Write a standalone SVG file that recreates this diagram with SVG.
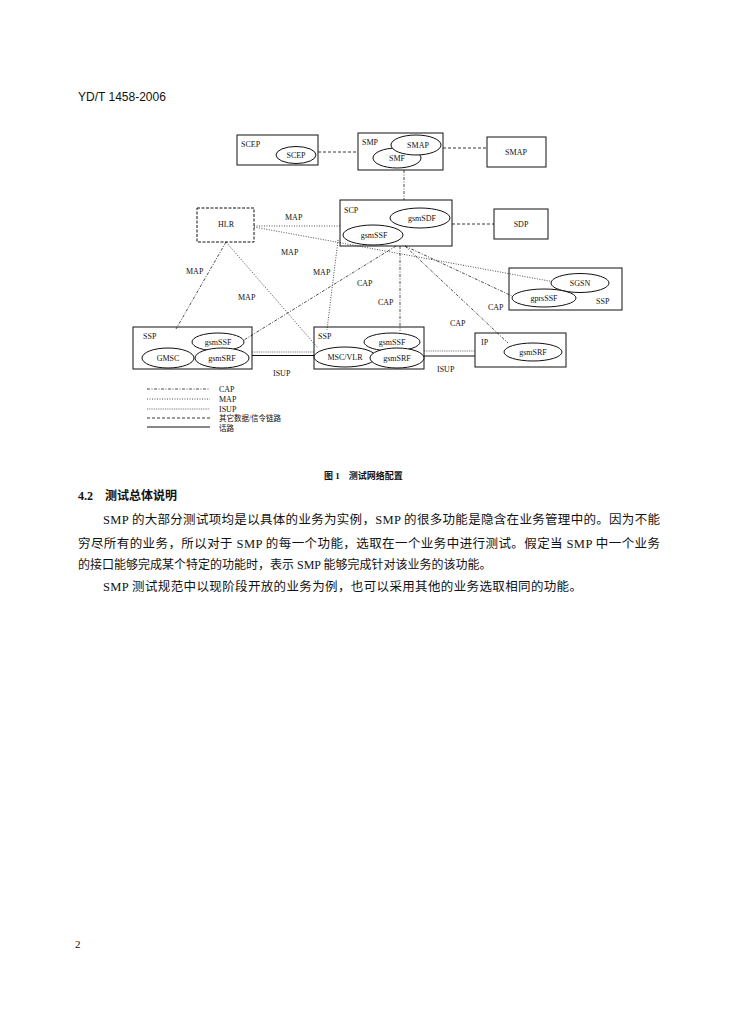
<svg xmlns="http://www.w3.org/2000/svg" width="744" height="1024" viewBox="0 0 744 1024">
<style>
.bx{fill:none;stroke:#111;stroke-width:1}
.el{fill:#fff;stroke:#111;stroke-width:1}
.t{font-family:"Liberation Serif",serif;font-size:8px;fill:#111}
.tc{font-family:"Liberation Serif",serif;font-size:8px;fill:#111;text-anchor:middle}
.cap{fill:none;stroke:#222;stroke-width:0.8;stroke-dasharray:3 1.5 1 1.5}
.map{fill:none;stroke:#222;stroke-width:0.8;stroke-dasharray:1 1.5}
.isup{fill:none;stroke:#444;stroke-width:0.7;stroke-dasharray:1 0.8}
.oth{fill:none;stroke:#222;stroke-width:0.9;stroke-dasharray:3 2}
.sol{fill:none;stroke:#111;stroke-width:1}
.zh{font-family:"Liberation Serif","Noto Sans CJK SC",serif;fill:#111}
</style>
<rect width="744" height="1024" fill="#fff"/>
<text x="78" y="101" font-family="Liberation Sans,Arial,sans-serif" font-size="12" fill="#111">YD/T 1458-2006</text>

<g id="connectors">
<line class="oth" x1="318" y1="152" x2="358" y2="152"/>
<line class="oth" x1="443" y1="148" x2="487" y2="148"/>
<line class="cap" x1="404" y1="170" x2="404" y2="200"/>
<line class="oth" x1="452" y1="224" x2="494" y2="224"/>
<line class="map" x1="254" y1="226" x2="340" y2="226"/>
<line class="map" x1="254" y1="227" x2="560" y2="283"/>
<line class="cap" x1="226" y1="242" x2="176" y2="329"/>
<line class="map" x1="226" y1="242" x2="318" y2="348"/>
<line class="map" x1="338" y1="240" x2="327" y2="330"/>
<line class="cap" x1="396" y1="246" x2="244" y2="340"/>
<line class="cap" x1="400" y1="246" x2="400" y2="331"/>
<line class="cap" x1="405" y1="246" x2="512" y2="296"/>
<line class="cap" x1="405" y1="246" x2="508" y2="343"/>
<line class="isup" x1="252" y1="352" x2="314" y2="352"/>
<line class="sol" x1="252" y1="355.5" x2="314" y2="355.5"/>
<line class="isup" x1="424" y1="351" x2="475" y2="351"/>
<line class="sol" x1="424" y1="356" x2="475" y2="356"/>
<text class="t" x="285" y="220">MAP</text>
<text class="t" x="281" y="255">MAP</text>
<text class="t" x="186" y="274">MAP</text>
<text class="t" x="238" y="300">MAP</text>
<text class="t" x="313" y="275">MAP</text>
<text class="t" x="357" y="286">CAP</text>
<text class="t" x="378" y="305">CAP</text>
<text class="t" x="488" y="310">CAP</text>
<text class="t" x="450" y="326">CAP</text>
<text class="t" x="273" y="376">ISUP</text>
<text class="t" x="437" y="372">ISUP</text>
</g>

<g id="scep">
<rect class="bx" x="237" y="135" width="81" height="30"/>
<text class="t" x="241" y="147">SCEP</text>
<ellipse class="el" cx="296" cy="155" rx="20" ry="8.5"/>
<text class="tc" x="296" y="158">SCEP</text>
</g>
<g id="smp">
<rect class="bx" x="358" y="133" width="85" height="37" stroke-width="1.6"/>
<text class="t" x="362" y="145">SMP</text>
<ellipse class="el" cx="397" cy="158" rx="24" ry="10"/>
<text class="tc" x="397" y="161">SMF</text>
<ellipse class="el" cx="416" cy="145" rx="25" ry="10"/>
<text class="tc" x="418" y="148">SMAP</text>
</g>
<g id="smap">
<rect class="bx" x="487" y="137" width="59" height="30"/>
<text class="tc" x="516" y="155">SMAP</text>
</g>
<g id="hlr">
<rect class="bx" x="197" y="208" width="57" height="34" stroke-dasharray="3 1.5"/>
<text class="tc" x="226" y="227">HLR</text>
</g>
<g id="scp">
<rect class="bx" x="340" y="200" width="112" height="46" fill="#fff" stroke-width="1.2"/>
<text class="t" x="344" y="213">SCP</text>
<ellipse class="el" cx="420" cy="218" rx="30" ry="10"/>
<text class="tc" x="422" y="221">gsmSDF</text>
<ellipse class="el" cx="373" cy="235" rx="30" ry="10"/>
<text class="tc" x="374" y="238">gsmSSF</text>
</g>
<g id="sdp">
<rect class="bx" x="494" y="209" width="54" height="30"/>
<text class="tc" x="521" y="227">SDP</text>
</g>
<g id="sgsn">
<rect class="bx" x="509" y="268" width="113" height="42"/>
<ellipse class="el" cx="580" cy="283" rx="29" ry="9.5"/>
<text class="tc" x="580" y="286">SGSN</text>
<ellipse class="el" cx="544" cy="298" rx="32" ry="9"/>
<text class="tc" x="544" y="301">gprsSSF</text>
<text class="t" x="596" y="304">SSP</text>
</g>
<g id="ssp1">
<rect class="bx" x="133" y="327" width="119" height="42"/>
<text class="t" x="143" y="339">SSP</text>
<ellipse class="el" cx="218" cy="342" rx="26" ry="9"/>
<text class="tc" x="218" y="345">gsmSSF</text>
<ellipse class="el" cx="168" cy="358" rx="26" ry="10"/>
<text class="tc" x="168" y="361">GMSC</text>
<ellipse class="el" cx="222" cy="358" rx="27" ry="10"/>
<text class="tc" x="222" y="361">gsmSRF</text>
</g>
<g id="ssp2">
<rect class="bx" x="314" y="327" width="110" height="42"/>
<text class="t" x="318" y="339">SSP</text>
<ellipse class="el" cx="392" cy="342" rx="28" ry="9"/>
<text class="tc" x="392" y="345">gsmSSF</text>
<ellipse class="el" cx="345" cy="357" rx="31" ry="10"/>
<text class="tc" x="345" y="360">MSC/VLR</text>
<ellipse class="el" cx="397" cy="358" rx="27" ry="10"/>
<text class="tc" x="397" y="361">gsmSRF</text>
</g>
<g id="ip">
<rect class="bx" x="475" y="333" width="91" height="34"/>
<text class="t" x="481" y="345">IP</text>
<ellipse class="el" cx="533" cy="352" rx="29" ry="9"/>
<text class="tc" x="533" y="355">gsmSRF</text>
</g>

<g id="legend">
<line class="cap" x1="147" y1="389" x2="210" y2="389"/>
<line class="map" x1="147" y1="399" x2="210" y2="399"/>
<line class="isup" x1="147" y1="409" x2="210" y2="409"/>
<line class="oth" x1="147" y1="418" x2="210" y2="418"/>
<line class="sol" x1="147" y1="427" x2="210" y2="427"/>
<text class="t" x="219" y="392" font-size="7">CAP</text>
<text class="t" x="219" y="402" font-size="7">MAP</text>
<text class="t" x="219" y="412" font-size="7">ISUP</text>
<text class="zh" x="219" y="421" font-size="7.5">其它数据/信令链路</text>
<text class="zh" x="219" y="431" font-size="7.5">话路</text>
</g>

<text class="zh" x="324" y="479" font-size="9" font-weight="bold">图 1　测试网络配置</text>
<text class="zh" x="78" y="500" font-size="12" font-weight="bold">4.2　测试总体说明</text>
<text class="zh" x="103" y="524" font-size="12.5" textLength="557" lengthAdjust="spacing">SMP 的大部分测试项均是以具体的业务为实例，SMP 的很多功能是隐含在业务管理中的。因为不能</text>
<text class="zh" x="78" y="548" font-size="12.5" textLength="582" lengthAdjust="spacing">穷尽所有的业务，所以对于 SMP 的每一个功能，选取在一个业务中进行测试。假定当 SMP 中一个业务</text>
<text class="zh" x="78" y="569" font-size="12">的接口能够完成某个特定的功能时，表示 SMP 能够完成针对该业务的该功能。</text>
<text class="zh" x="103" y="591" font-size="12.5" textLength="479" lengthAdjust="spacing">SMP 测试规范中以现阶段开放的业务为例，也可以采用其他的业务选取相同的功能。</text>
<text x="75" y="948" font-family="Liberation Serif,serif" font-size="11" fill="#111">2</text>
</svg>
